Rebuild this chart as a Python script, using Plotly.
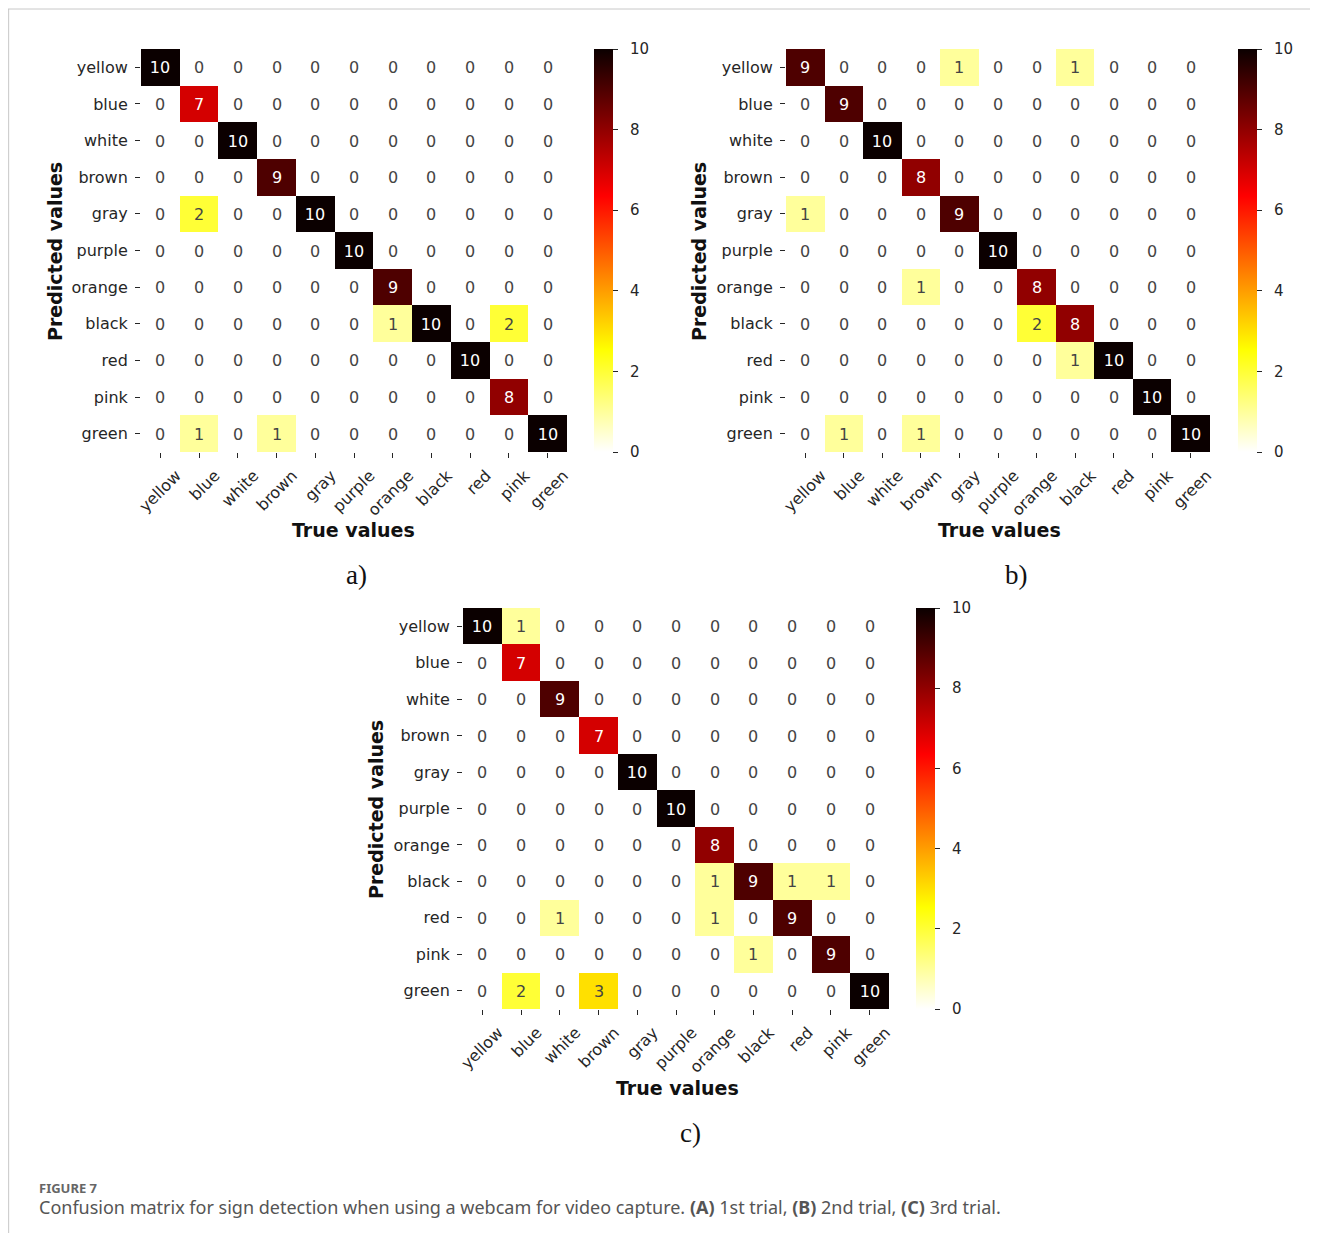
import plotly.graph_objects as go

labels = ["yellow", "blue", "white", "brown", "gray", "purple", "orange", "black", "red", "pink", "green"]

matrix_a = [
    [10, 0, 0, 0, 0, 0, 0, 0, 0, 0, 0],
    [0, 7, 0, 0, 0, 0, 0, 0, 0, 0, 0],
    [0, 0, 10, 0, 0, 0, 0, 0, 0, 0, 0],
    [0, 0, 0, 9, 0, 0, 0, 0, 0, 0, 0],
    [0, 2, 0, 0, 10, 0, 0, 0, 0, 0, 0],
    [0, 0, 0, 0, 0, 10, 0, 0, 0, 0, 0],
    [0, 0, 0, 0, 0, 0, 9, 0, 0, 0, 0],
    [0, 0, 0, 0, 0, 0, 1, 10, 0, 2, 0],
    [0, 0, 0, 0, 0, 0, 0, 0, 10, 0, 0],
    [0, 0, 0, 0, 0, 0, 0, 0, 0, 8, 0],
    [0, 1, 0, 1, 0, 0, 0, 0, 0, 0, 10],
]
matrix_b = [
    [9, 0, 0, 0, 1, 0, 0, 1, 0, 0, 0],
    [0, 9, 0, 0, 0, 0, 0, 0, 0, 0, 0],
    [0, 0, 10, 0, 0, 0, 0, 0, 0, 0, 0],
    [0, 0, 0, 8, 0, 0, 0, 0, 0, 0, 0],
    [1, 0, 0, 0, 9, 0, 0, 0, 0, 0, 0],
    [0, 0, 0, 0, 0, 10, 0, 0, 0, 0, 0],
    [0, 0, 0, 1, 0, 0, 8, 0, 0, 0, 0],
    [0, 0, 0, 0, 0, 0, 2, 8, 0, 0, 0],
    [0, 0, 0, 0, 0, 0, 0, 1, 10, 0, 0],
    [0, 0, 0, 0, 0, 0, 0, 0, 0, 10, 0],
    [0, 1, 0, 1, 0, 0, 0, 0, 0, 0, 10],
]
matrix_c = [
    [10, 1, 0, 0, 0, 0, 0, 0, 0, 0, 0],
    [0, 7, 0, 0, 0, 0, 0, 0, 0, 0, 0],
    [0, 0, 9, 0, 0, 0, 0, 0, 0, 0, 0],
    [0, 0, 0, 7, 0, 0, 0, 0, 0, 0, 0],
    [0, 0, 0, 0, 10, 0, 0, 0, 0, 0, 0],
    [0, 0, 0, 0, 0, 10, 0, 0, 0, 0, 0],
    [0, 0, 0, 0, 0, 0, 8, 0, 0, 0, 0],
    [0, 0, 0, 0, 0, 0, 1, 9, 1, 1, 0],
    [0, 0, 1, 0, 0, 0, 1, 0, 9, 0, 0],
    [0, 0, 0, 0, 0, 0, 0, 1, 0, 9, 0],
    [0, 2, 0, 3, 0, 0, 0, 0, 0, 0, 10],
]
cbar_ticks = [0, 2, 4, 6, 8, 10]
cbar_ticktext = ["0", "2", "4", "6", "8", "10"]
panel_labels = ["a)", "b)", "c)"]

# page has an 8px body margin; the figure fills the rest
OFF = 8
W, H = 1318 - 2 * OFF, 1241 - 2 * OFF
def px(x): return (x - OFF) / W
def py(y): return 1 - (y - OFF) / H

# matplotlib "hot_r"
hot_r = [[0.0, "rgb(255,255,255)"], [0.254, "rgb(255,255,0)"],
         [0.635, "rgb(255,0,0)"], [1.0, "rgb(11,0,0)"]]

TXT = "#262626"
FONT = "DejaVu Sans"

# pixel boxes in the page: (left, right, top, bottom, colorbar_left)
panels = [
    (141, 567, 49, 452, 594),
    (786, 1210, 49, 452, 1238),
    (463, 889, 608, 1009, 916),
]
mats = [matrix_a, matrix_b, matrix_c]

fig = go.Figure()
layout = {}
annotations = []
for i, (m, (l, r, t, b, cbl)) in enumerate(zip(mats, panels)):
    n = "" if i == 0 else str(i + 1)
    fig.add_trace(go.Heatmap(
        z=m, x=labels, y=labels, xaxis="x" + n, yaxis="y" + n,
        zmin=0, zmax=10, colorscale=hot_r,
        texttemplate="%{z}", textfont=dict(family=FONT, size=16),
        hoverinfo="skip",
        colorbar=dict(
            x=px(cbl), xanchor="left", xpad=0, ypad=0,
            y=py((t + b) / 2), yanchor="middle",
            len=(b - t) / H, lenmode="fraction",
            thickness=19, thicknessmode="pixels", outlinewidth=0,
            tickmode="array", tickvals=cbar_ticks,
            ticktext=["\u00a0\u00a0" + s for s in cbar_ticktext],
            ticks="outside", ticklen=5, tickwidth=1,
            tickcolor=TXT, tickfont=dict(family=FONT, size=15, color=TXT),
        ),
    ))
    layout["xaxis" + n] = dict(
        domain=[px(l), px(r)], anchor="y" + n, tickangle=-45, automargin=False,
        ticks="outside", ticklen=5, tickcolor=TXT, showgrid=False, zeroline=False,
        showline=False, tickfont=dict(family=FONT, size=16, color=TXT),
        ticklabelshift=16, ticklabelstandoff=2,
        categoryorder="array", categoryarray=labels,
    )
    layout["yaxis" + n] = dict(
        domain=[py(b), py(t)], anchor="x" + n, autorange="reversed", automargin=False,
        ticks="outside", ticklen=5, tickcolor=TXT, showgrid=False, zeroline=False,
        showline=False, tickfont=dict(family=FONT, size=16, color=TXT),
        ticklabelstandoff=4,
        categoryorder="array", categoryarray=labels,
    )

title_pos = [  # (True values x, y), (Predicted values x, y)
    ((354, 530), (55, 252)),
    ((999, 530), (699, 252)),
    ((677, 1088), (376, 810)),
]
for (tx, ty), (vx, vy) in title_pos:
    annotations.append(dict(text="<b>True values</b>", x=px(tx), y=py(ty),
                            xref="paper", yref="paper", xanchor="center", yanchor="middle",
                            showarrow=False, font=dict(family=FONT, size=19, color="#111")))
    annotations.append(dict(text="<b>Predicted values</b>", x=px(vx), y=py(vy),
                            xref="paper", yref="paper", xanchor="center", yanchor="middle",
                            showarrow=False, textangle=-90,
                            font=dict(family=FONT, size=19, color="#111")))

for lab, (lx, ly) in zip(panel_labels, [(356, 575), (1016, 575), (690, 1133)]):
    annotations.append(dict(text=lab, x=px(lx), y=py(ly), xref="paper", yref="paper",
                            xanchor="center", yanchor="middle", showarrow=False,
                            font=dict(family="Liberation Serif", size=27, color="#111")))

annotations.append(dict(text="<b>FIGURE 7</b>", x=px(37), y=py(1188), xref="paper", yref="paper",
                        xanchor="left", yanchor="middle", showarrow=False,
                        font=dict(family="Noto Sans", size=13, color="#666")))
annotations.append(dict(
    text="Confusion matrix for sign detection when using a webcam for video capture. "
         "<b>(A)</b> 1st trial, <b>(B)</b> 2nd trial, <b>(C)</b> 3rd trial.",
    x=px(37), y=py(1207), xref="paper", yref="paper", xanchor="left", yanchor="middle",
    showarrow=False, font=dict(family="Noto Sans", size=18, color="#555")))

shapes = [
    dict(type="line", xref="paper", yref="paper", x0=0, x1=1, y0=py(9), y1=py(9),
         line=dict(color="#c8c8c8", width=1)),
    dict(type="line", xref="paper", yref="paper", x0=0.0005, x1=0.0005, y0=py(9), y1=0,
         line=dict(color="#c8c8c8", width=1)),
]

fig.update_layout(
    width=W, height=H, margin=dict(l=0, r=0, t=0, b=0, autoexpand=False),
    paper_bgcolor="white", plot_bgcolor="white",
    annotations=annotations, shapes=shapes, **layout,
)
fig.write_html("out.html")
